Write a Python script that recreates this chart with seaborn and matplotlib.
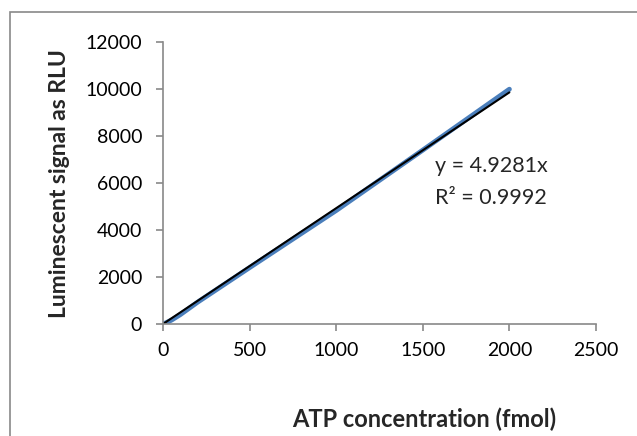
import matplotlib
matplotlib.use("Agg")
import matplotlib.pyplot as plt
import numpy as np
import pandas as pd
import seaborn as sns
from matplotlib.patches import Rectangle

atp_fmol = [0, 20, 50, 100, 200, 500, 1000, 1500, 2000]
rlu = [0, 60, 170, 400, 930, 2400, 4830, 7400, 9990]
slope = 4.9281
r2 = 0.9992

sns.set_theme(style="white")
plt.rcParams["font.family"] = ["Lato", "DejaVu Sans"]

df = pd.DataFrame({"atp": atp_fmol, "rlu": rlu})
fit = pd.DataFrame({"atp": [0, max(atp_fmol)]})
fit["rlu"] = slope * fit["atp"]

fig = plt.figure(figsize=(6.37, 4.36), dpi=100)
ax = fig.add_axes([0.2559, 0.2569, 0.6797, 0.6468])

sns.lineplot(data=df, x="atp", y="rlu", ax=ax, color="#4a7ebb", linewidth=3.5,
             solid_capstyle="round")
sns.lineplot(data=fit, x="atp", y="rlu", ax=ax, color="black", linewidth=1.5)

ax.set_xlim(0, 2500)
ax.set_ylim(0, 12000)
ax.set_xticks(range(0, 2501, 500))
ax.set_yticks(range(0, 12001, 2000))
ax.set_xlabel("")
ax.set_ylabel("")

gray = "#898989"
for s in ["top", "right"]:
    ax.spines[s].set_visible(False)
for s in ["left", "bottom"]:
    ax.spines[s].set_color(gray)
    ax.spines[s].set_linewidth(1.2)
ax.tick_params(axis="both", which="major", direction="out", length=5,
               width=1.2, color=gray, labelsize=14, labelcolor="black")
ax.tick_params(axis="x", pad=8)
ax.tick_params(axis="y", pad=10)
ax.tick_params(left=True, bottom=True)

ax.text(1570, 6468, f"y = {slope}x", fontsize=15.5, va="baseline")
ax.text(1570, 5106, f"R² = {r2}", fontsize=15.5, va="baseline")

fig.text(0.6656, 0.021, "ATP concentration (fmol)", ha="center", va="baseline",
         fontsize=17, fontweight="bold")
fig.text(0.094, 0.58, "Luminescent signal as RLU", ha="center", va="center",
         rotation=90, fontsize=16.5, fontweight="bold")

fig.patches.append(Rectangle((10 / 637, -0.01), 1.0, 1 - 12 / 436 + 0.01,
                             transform=fig.transFigure, fill=False,
                             edgecolor=gray, linewidth=1.2))

fig.savefig("out.png", dpi=100)
